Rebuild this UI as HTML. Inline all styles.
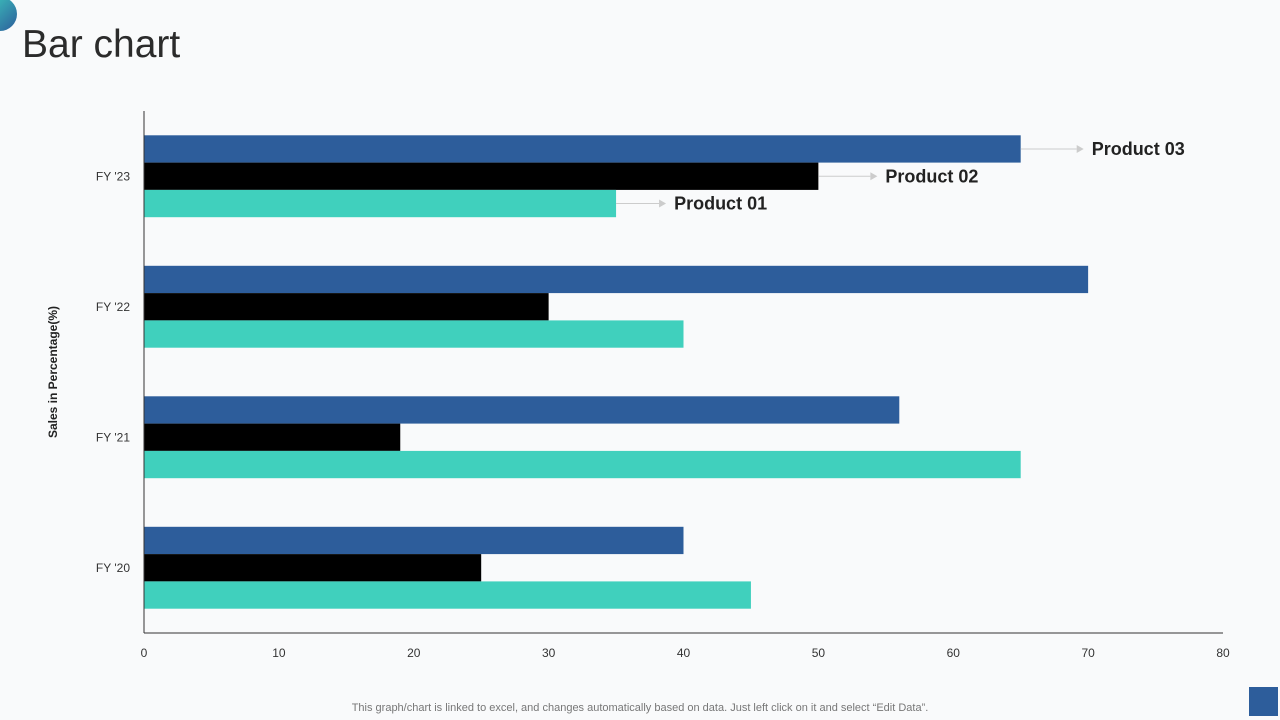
<!DOCTYPE html>
<html><head><meta charset="utf-8">
<style>
body{margin:0;width:1280px;height:720px;background:#f9fafb;overflow:hidden;font-family:"Liberation Sans",sans-serif;}
svg{position:absolute;left:0;top:0}
</style></head>
<body>
<svg id="c" width="1280" height="720" xmlns="http://www.w3.org/2000/svg">
<defs><linearGradient id="g" x1="0" y1="0" x2="1" y2="1"><stop offset="0" stop-color="#3ecfc0"/><stop offset="1" stop-color="#2d5d9b"/></linearGradient></defs>
<circle cx="0" cy="14" r="17" fill="url(#g)"/>
<text x="22" y="57" font-size="39" fill="#2b2b2b">Bar chart</text>
<text x="57" y="372" font-size="12" font-weight="bold" fill="#222" text-anchor="middle" transform="rotate(-90 57 372)">Sales in Percentage(%)</text>
<text x="640" y="711" font-size="11" fill="#777" text-anchor="middle">This graph/chart is linked to excel, and changes automatically based on data. Just left click on it and select “Edit Data”.</text>
<rect x="1249" y="687" width="29" height="29" fill="#2d5d9b"/>
<g id="plot"></g>
</svg>
<script>
const categories=["FY '23","FY '22","FY '21","FY '20"];
const product03=[65,70,56,40];
const product02=[50,30,19,25];
const product01=[35,40,65,45];
const xTicks=[0,10,20,30,40,50,60,70,80];
const seriesNames=["Product 03","Product 02","Product 01"];
const ns="http://www.w3.org/2000/svg";
const L=144,R=1223,T=111,B=633;
const x=v=>L+(v-0)/80*(R-L);
const band=(B-T)/categories.length;
const g=document.getElementById('plot');
function el(t,a){const e=document.createElementNS(ns,t);for(const k in a)e.setAttribute(k,a[k]);g.appendChild(e);return e;}
const colors=["#2d5d9b","#000000","#40d0bd"];
const series=[product03,product02,product01];
const arrowLen=[56,52,43];
const bh=27.3;
categories.forEach((c,i)=>{
  const cy=T+band*(i+0.5);
  const t=el('text',{x:130,y:cy+4,'font-size':12,fill:'#333','text-anchor':'end'});t.textContent=c;
  
  
  series.forEach((s,j)=>{
    const y0=cy-1.5*bh+j*bh;
    const r=el('rect',{x:L,y:y0,width:x(s[i])-L,height:bh,fill:colors[j]});
    
    
    if(i===0){
      const ay=y0+bh/2, ax=x(s[i]), al=arrowLen[j];
      const ln=el('line',{x1:ax,y1:ay,x2:ax+al,y2:ay,stroke:'#ccc','stroke-width':1});
      
      
      const ar=el('path',{d:`M${ax+al} ${ay-4}L${ax+al+7} ${ay}L${ax+al} ${ay+4}Z`,fill:'#ccc'});
      
      
      const lt=el('text',{x:ax+al+15,y:ay+6,'font-size':18,'font-weight':'bold',fill:'#222'});
      lt.textContent=seriesNames[j];
      
      
    }
  });
});
xTicks.forEach(v=>{
  const t=el('text',{x:x(v),y:657,'font-size':12,fill:'#333','text-anchor':'middle'});t.textContent=v;
  
  
});
const ya=el('line',{x1:L,y1:T,x2:L,y2:B,stroke:'#333','stroke-width':1});


const xa=el('line',{x1:L,y1:B,x2:R,y2:B,stroke:'#333','stroke-width':1});


</script>
</body></html>
